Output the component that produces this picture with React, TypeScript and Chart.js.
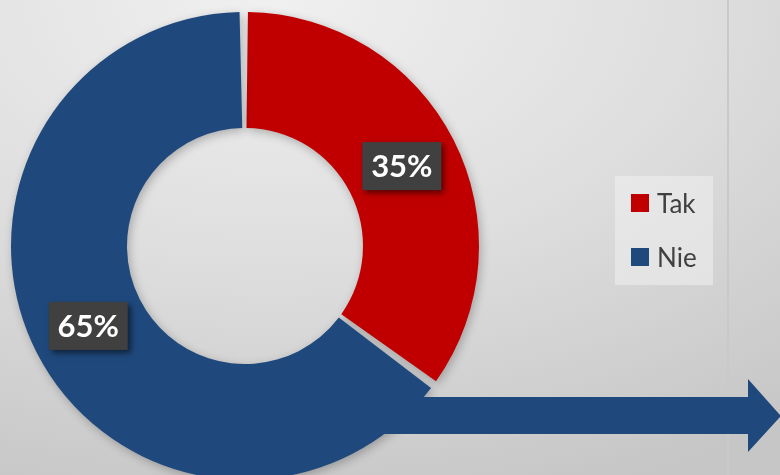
import React, { useEffect, useRef } from "react";
import { Chart, registerables } from "chart.js";

Chart.register(...registerables);

const categories = ["Tak", "Nie"];
const values = [35, 65];
const colors = ["#C00000", "#1F497D"];
const valueLabels = ["35%", "65%"];

const labelPlugin = {
  id: "boxLabels",
  afterDatasetsDraw(chart: any) {
    const ctx = chart.ctx;
    const meta = chart.getDatasetMeta(0);
    // decorative arrow
    const area = chart.chartArea;
    const cx = (area.left + area.right) / 2;
    ctx.save();
    ctx.fillStyle = "#1F497D";
    ctx.beginPath();
    ctx.moveTo(cx + 100, 397);
    ctx.lineTo(748, 397);
    ctx.lineTo(748, 379);
    ctx.lineTo(781, 416);
    ctx.lineTo(748, 452);
    ctx.lineTo(748, 434);
    ctx.lineTo(cx + 100, 434);
    ctx.closePath();
    ctx.fill();
    ctx.restore();

    meta.data.forEach((arc: any, i: number) => {
      const p = arc.tooltipPosition();
      const w = 79, h = 48;
      const x = p.x - w / 2, y = p.y - h / 2;
      ctx.save();
      ctx.shadowColor = "rgba(0,0,0,0.55)";
      ctx.shadowBlur = 6;
      ctx.shadowOffsetX = 3;
      ctx.shadowOffsetY = 3;
      ctx.fillStyle = "#404040";
      ctx.fillRect(x, y, w, h);
      ctx.restore();
      ctx.save();
      ctx.fillStyle = "#ffffff";
      ctx.font = "bold 31px Lato, 'Open Sans', sans-serif";
      ctx.textAlign = "center";
      ctx.textBaseline = "middle";
      ctx.fillText(valueLabels[i], p.x, p.y + 1);
      ctx.restore();
    });
  },
};

const shadowPlugin = {
  id: "arcShadow",
  beforeDatasetsDraw(chart: any) {
    const ctx = chart.ctx;
    ctx.save();
    ctx.shadowColor = "rgba(0,0,0,0.25)";
    ctx.shadowBlur = 10;
    ctx.shadowOffsetX = 2;
    ctx.shadowOffsetY = 3;
  },
  afterDatasetsDraw(chart: any) {
    chart.ctx.restore();
  },
};

export default function App() {
  const ref = useRef<HTMLCanvasElement | null>(null);
  useEffect(() => {
    document.body.style.margin = "0";
    const chart = new Chart(ref.current as HTMLCanvasElement, {
      type: "doughnut",
      data: {
        labels: categories,
        datasets: [
          {
            data: values,
            backgroundColor: colors,
            borderWidth: 0,
            spacing: 4,
          },
        ],
      },
      options: {
        animation: false,
        responsive: false,
        cutout: "50%",
        layout: { padding: { left: 11, right: 301, top: 12, bottom: 20 } },
        plugins: { legend: { display: false }, tooltip: { enabled: false } },
      },
      plugins: [shadowPlugin, labelPlugin],
    });
    return () => chart.destroy();
  }, []);

  return (
    <div
      style={{
        position: "relative",
        width: 780,
        height: 475,
        overflow: "hidden",
        background: "radial-gradient(ellipse 110% 110% at 35% 0%, #f0f0f0 0%, #dedede 50%, #c6c6c6 100%)",
      }}
    >
      <div style={{ position: "absolute", left: 727, top: 0, width: 2, height: 475, background: "#c9c9c9" }} />
      <canvas ref={ref} width={780} height={500} style={{ position: "absolute", left: 0, top: 0 }} />
      <div
        style={{
          position: "absolute",
          left: 615,
          top: 176,
          width: 98,
          height: 109,
          background: "rgba(240,240,240,0.55)",
          fontFamily: "Lato, 'Open Sans', sans-serif",
          fontSize: 26,
          color: "#404040",
        }}
      >
        {categories.map((c, i) => (
          <div key={c} style={{ position: "absolute", left: 16, top: 12 + i * 54, display: "flex", alignItems: "center", height: 30 }}>
            <span style={{ display: "inline-block", width: 18, height: 18, background: colors[i], marginRight: 8 }} />
            <span>{c}</span>
          </div>
        ))}
      </div>
    </div>
  );
}
